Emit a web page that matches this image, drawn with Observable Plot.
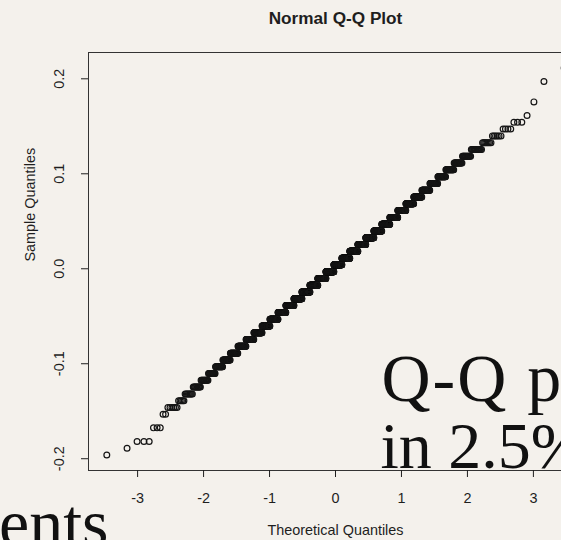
<!DOCTYPE html>
<html><head><meta charset="utf-8">
<script src="https://cdn.jsdelivr.net/npm/d3@7"></script>
<script src="https://cdn.jsdelivr.net/npm/@observablehq/plot@0.6"></script>
<style>
html,body{margin:0;padding:0;background:#f4f1ec;overflow:hidden;}
#chart{width:561px;height:540px;}
.slide-wide text{letter-spacing:2px;}
</style></head><body><div id="chart"></div>
<script>
const levels = [-0.1961,-0.1890,-0.1818,-0.1747,-0.1675,-0.1604,-0.1532,-0.1461,-0.1389,-0.1318,
  -0.1246,-0.1175,-0.1103,-0.1032,-0.0960,-0.0889,-0.0817,-0.0746,-0.0674,-0.0603,
  -0.0531,-0.0460,-0.0388,-0.0317,-0.0245,-0.0174,-0.0102,-0.0031,0.0041,0.0112,
  0.0184,0.0255,0.0327,0.0398,0.0470,0.0541,0.0613,0.0684,0.0756,0.0827,
  0.0899,0.0970,0.1042,0.1113,0.1185,0.1256,0.1328,0.1399,0.1471,0.1542,
  0.1614,0.1685,0.1757,0.1828,0.1900,0.1971,0.2043,0.2114];
// How many observations sit on each level (width of each step)
const counts = [1,1,3,0,3,0,2,6,5,8,
  10,12,14,18,22,27,34,39,47,52,
  60,65,73,78,83,86,91,91,92,90,
  89,84,81,74,69,62,56,48,43,36,
  30,25,21,17,14,13,8,6,4,3,
  1,0,1,0,0,1,0,1];
const xTicks = [-3,-2,-1,0,1,2,3];
const xTickLabels = ["-3","-2","-1","0","1","2","3"];
const yTicks = [-0.2,-0.1,0,0.1,0.2];
const yTickLabels = ["-0.2","-0.1","0.0","0.1","0.2"];
const titleText = "Normal Q-Q Plot";
const xLabel = "Theoretical Quantiles";
const yLabel = "Sample Quantiles";
const slideLines = ["Q-Q plot", "in 2.5%"];
const slideFragment = ["ents"];

function qnorm(p){
  const a=[-3.969683028665376e+01,2.209460984245205e+02,-2.759285104469687e+02,1.383577518672690e+02,-3.066479806614716e+01,2.506628277459239e+00];
  const b=[-5.447609879822406e+01,1.615858368580409e+02,-1.556989798598866e+02,6.680131188771972e+01,-1.328068155288572e+01];
  const c=[-7.784894002430293e-03,-3.223964580411365e-01,-2.400758277161838e+00,-2.549732539343734e+00,4.374664141464968e+00,2.938163982698783e+00];
  const d=[7.784695709041462e-03,3.224671290700398e-01,2.445134137142996e+00,3.754408661907416e+00];
  const pl=0.02425, ph=1-pl;
  let q,r;
  if(p<pl){q=Math.sqrt(-2*Math.log(p));return (((((c[0]*q+c[1])*q+c[2])*q+c[3])*q+c[4])*q+c[5])/((((d[0]*q+d[1])*q+d[2])*q+d[3])*q+1);}
  if(p>ph){q=Math.sqrt(-2*Math.log(1-p));return -(((((c[0]*q+c[1])*q+c[2])*q+c[3])*q+c[4])*q+c[5])/((((d[0]*q+d[1])*q+d[2])*q+d[3])*q+1);}
  q=p-0.5;r=q*q;
  return (((((a[0]*r+a[1])*r+a[2])*r+a[3])*r+a[4])*r+a[5])*q/(((((b[0]*r+b[1])*r+b[2])*r+b[3])*r+b[4])*r+1);
}

// qqnorm: sorted sample against qnorm(ppoints(n))
const sample = [];
levels.forEach((v,k)=>{ for(let j=0;j<counts[k];j++) sample.push(v); });
const n = sample.length;
const aa = n <= 10 ? 3/8 : 1/2;
const points = sample.map((v,i)=>({theoretical: qnorm((i+1-aa)/(n+1-2*aa)), sample: v}));

function padded(ext){ const r = ext[1]-ext[0]; return [ext[0]-0.04*r, ext[1]+0.04*r]; }
const xDom = padded(d3.extent(points, d=>d.theoretical));
const yDom = padded(d3.extent(points, d=>d.sample));

const W = 561, H = 540;
const mL = 88, mT = 52, mB = 70, mR = -21;
const serif = "'Liberation Serif', 'Times New Roman', serif";

const chart = Plot.plot({
  width: W, height: H,
  marginLeft: mL, marginTop: mT, marginBottom: mB, marginRight: mR,
  style: {background: "#f4f1ec", color: "#1e1e1e", fontFamily: "'Liberation Sans', Arial, Helvetica, sans-serif", fontSize: "14.4px"},
  x: {domain: xDom, range: [mL, W - mR]},
  y: {domain: yDom, range: [H - mB, mT]},
  marks: [
    Plot.frame({stroke: "#333", strokeWidth: 1}),
    Plot.axisX({ticks: xTicks, tickSize: 7, tickPadding: 15, tickFormat: d => xTickLabels[xTicks.indexOf(d)], fontSize: 14.4, label: null}),
    Plot.axisY({ticks: yTicks, tickSize: 7, tickPadding: 18, tickRotate: -90, tickFormat: d => yTickLabels[yTicks.indexOf(d)], fontSize: 14.4, label: null}),
    Plot.dot(points, {x: "theoretical", y: "sample", r: 2.9, stroke: "#151515", strokeWidth: 1.2, fill: "none"}),
    Plot.text([titleText], {frameAnchor: "top", dy: -34, text: d => d, fontWeight: "bold", fontSize: 17.2, lineAnchor: "middle"}),
    Plot.text([xLabel], {frameAnchor: "bottom", dy: 60, text: d => d, fontSize: 14.4, lineAnchor: "middle"}),
    Plot.text([yLabel], {frameAnchor: "left", dx: -58, text: d => d, fontSize: 14.4, rotate: -90, lineAnchor: "middle"}),
    Plot.text([slideLines[0]], {frameAnchor: "top-left", dx: 293, dy: 348, text: d => d, textAnchor: "start", lineAnchor: "bottom", fontSize: 68, fontFamily: serif, fill: "#111", className: "slide-wide"}),
    Plot.text([slideLines[1]], {frameAnchor: "top-left", dx: 292, dy: 415, text: d => d, textAnchor: "start", lineAnchor: "bottom", fontSize: 66, fontFamily: serif, fill: "#111"}),
    Plot.text(slideFragment, {frameAnchor: "top-left", dx: 20, dy: 493, text: d => d, textAnchor: "end", lineAnchor: "bottom", fontSize: 68, fontFamily: serif, fill: "#111"})
  ]
});
document.getElementById("chart").appendChild(chart);
</script>
</body></html>
